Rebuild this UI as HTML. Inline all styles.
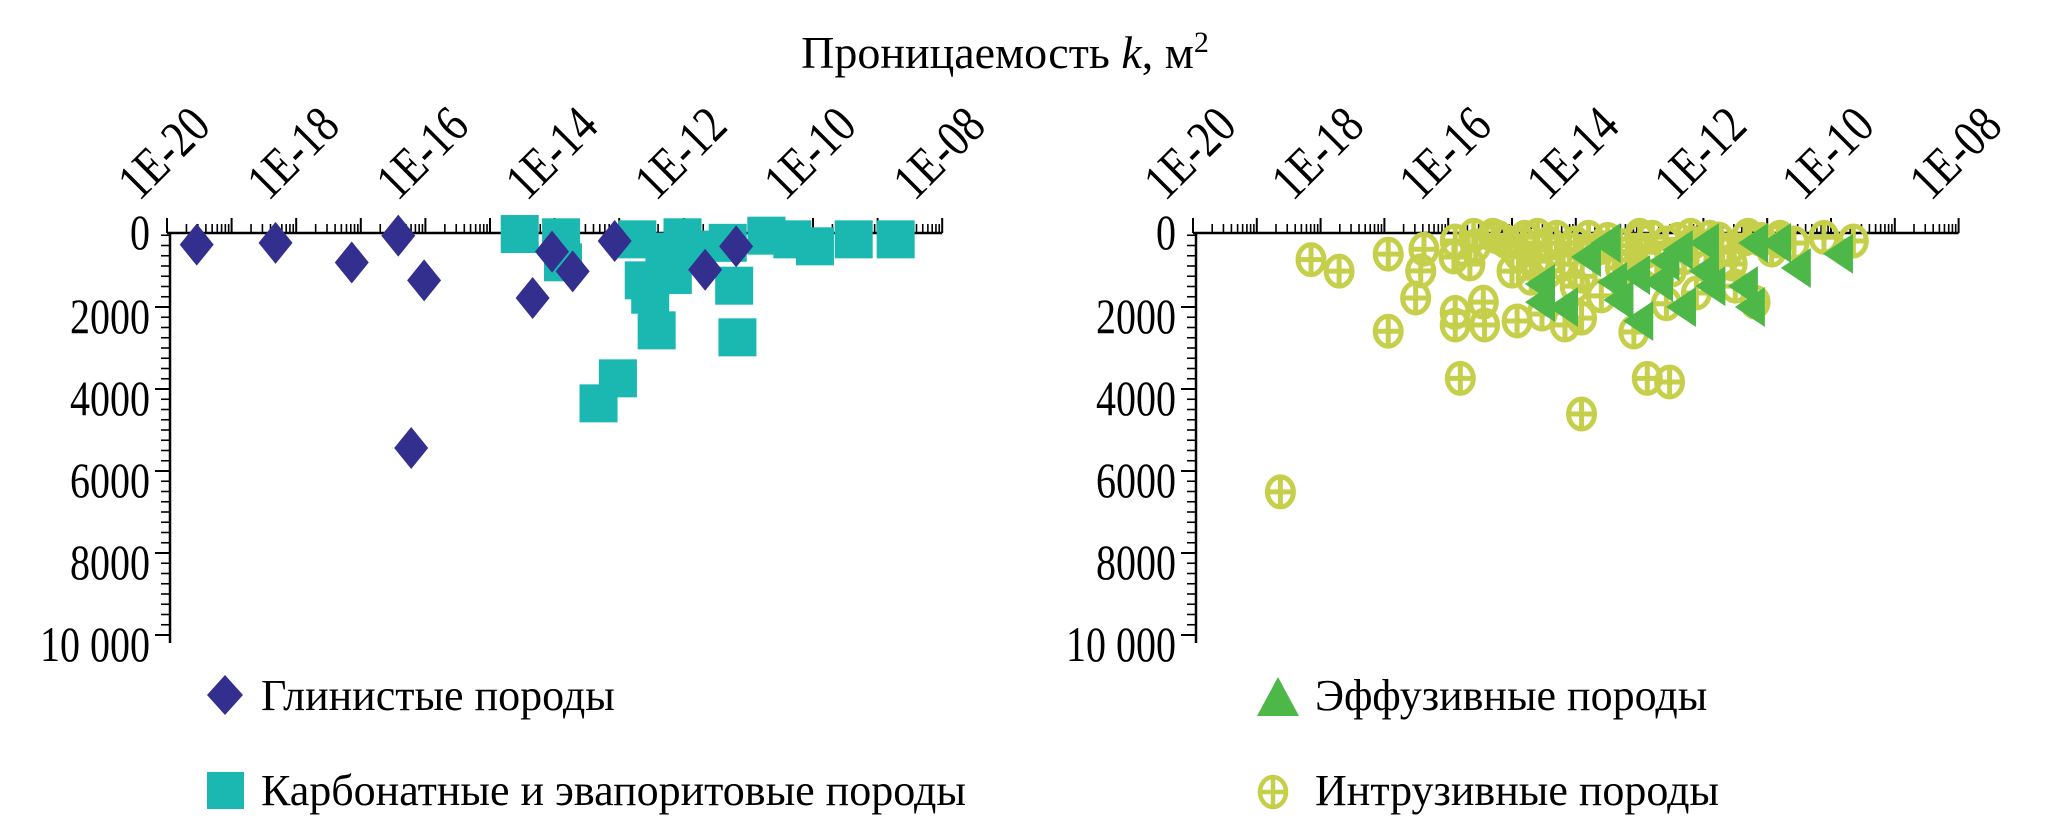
<!DOCTYPE html>
<html><head><meta charset="utf-8"><style>
html,body{margin:0;padding:0;background:#fff;}
svg{display:block;font-family:"Liberation Serif",serif;}
</style></head><body>
<svg id="chart" width="2067" height="827" viewBox="0 0 2067 827" xmlns="http://www.w3.org/2000/svg">
<text x="1005" y="68" font-size="46" text-anchor="middle">Проницаемость <tspan font-style="italic">k</tspan>, м<tspan font-size="30" dy="-16">2</tspan></text>
<g id="left"></g>
<g id="right"></g>
<g>
<polygon points="225,675 243,695 225,715 207,695" fill="#332f8f"/>
<text x="261" y="710" font-size="44">Глинистые породы</text>
<rect x="207" y="772" width="37" height="37" fill="#1ab8b0"/>
<text x="261" y="805" font-size="44">Карбонатные и эвапоритовые породы</text>
</g>
<g>
<polygon points="1278,677 1299,716 1257,716" fill="#4db848"/>
<text x="1315" y="710" font-size="44">Эффузивные породы</text>
<g stroke="#c5cf4a" fill="none" stroke-width="4.5"><ellipse cx="1273" cy="792" rx="13" ry="15"/><line x1="1260" y1="792" x2="1286" y2="792"/><line x1="1273" y1="777" x2="1273" y2="807"/></g>
<text x="1315" y="805" font-size="44">Интрузивные породы</text>
</g>
</svg>
<script>
const tickLabels = ["1E-20","1E-18","1E-16","1E-14","1E-12","1E-10","1E-08"];
const depthTicks = [0,2000,4000,6000,8000,10000];
const depthTickLabels = ["0","2000","4000","6000","8000","10 000"];
const clayLogK = [-19.54,-18.32,-17.14,-16.42,-16.02,-16.22,-14.34,-14.04,-13.72,-13.07,-11.67,-11.19];
const clayDepth = [480,435,915,260,1350,5440,1780,650,1130,390,1090,520];
const carbLogK = [-14.54,-13.87,-12.72,-12.62,-12.52,-12.42,-12.17,-12.02,-11.22,-11.17,-11.32,-13.02,-13.32,-10.72,-10.32,-9.97,-9.37,-8.72,-12.3,-11.8,-13.9];
const carbDepth = [220,910,350,1350,1700,2570,1220,300,1480,2740,435,3740,4350,260,350,520,350,350,650,600,300];
const intrLogK = [-18.15,-17.71,-16.94,-16.38,-16.43,-16.51,-16.94,-15.89,-15.91,-15.57,-15.66,-15.89,-15.89,-15.45,-15.43,-14.92,-15.81,-15.22,-15.0,-14.84,-14.63,-14.42,-14.53,-14.17,-13.91,-14.01,-14.42,-14.01,-13.71,-13.6,-13.19,-13.09,-12.88,-12.53,-13.91,-18.63,-12.99,-12.58,-12.17,-11.76,-12.11,-12.58,-11.55,-11.5,-11.19,-11.35,-10.93,-10.58,-10.11,-9.65,-10.83,-11.96,-12.73,-13.3,
 -15.6,-15.3,-15.1,-14.8,-14.6,-14.3,-14.1,-13.8,-13.5,-13.3,-13.0,-12.8,-12.4,-12.2,-11.9,-11.6,-11.3,-11.1,-10.8,-14.9,-14.4,-13.6,-12.9,-12.3,-11.7,-14.2,-13.2,-12.5,-14.7,-13.9];
const intrDepth = [845,1125,710,590,1120,1780,2590,390,780,510,950,2130,2440,1880,2440,2340,3740,300,1125,440,880,1120,2170,2440,2270,1490,440,440,610,1730,700,2610,3740,3830,4610,6510,340,440,440,340,1660,1920,950,1490,1880,340,610,440,300,390,390,700,880,1050,
 250,250,400,300,250,300,600,300,350,500,250,300,350,250,300,600,250,350,300,700,800,550,650,800,900,950,1000,1100,1300,1250];
const effLogK = [-14.53,-14.53,-14.17,-13.5,-13.4,-13.3,-13.04,-12.99,-12.68,-12.58,-12.32,-11.96,-11.96,-11.86,-11.35,-11.19,-11.24,-10.83,-10.52,-9.86,-13.81,-12.37];
const effDepth = [1440,1880,2000,440,1390,1830,1220,2340,1390,880,2000,440,1125,1490,1490,440,2000,440,1050,700,780,610];

const NS="http://www.w3.org/2000/svg";
function mk(tag,attrs,parent){const e=document.createElementNS(NS,tag);for(const k in attrs)e.setAttribute(k,attrs[k]);parent.appendChild(e);return e;}
const Y0=225, YS=0.041, AXY=233;
function yScale(d){return Y0+d*YS;}
function makePanel(g,x0,yAxisX,dec){
  const xScale=lk=>x0+(lk+20)*dec;
  mk('line',{x1:x0,y1:AXY,x2:x0+12*dec,y2:AXY,stroke:'#000','stroke-width':2.5},g);
  mk('line',{x1:yAxisX,y1:AXY,x2:yAxisX,y2:yScale(10000)+8,stroke:'#000','stroke-width':2.5},g);
  for(let d=0;d<=12;d++){
    const x=x0+d*dec;
    const t=mk('line',{x1:x,y1:AXY,x2:x,y2:AXY-15,stroke:'#000','stroke-width':2},g);
    
    
    if(d<12)for(let m=2;m<=9;m++){
      const xm=x+Math.log10(m)*dec;
      const mt=mk('line',{x1:xm,y1:AXY,x2:xm,y2:AXY-9,stroke:'#000','stroke-width':1.6},g);
      
      
    }
  }
  tickLabels.forEach((lab,i)=>{
    const x=xScale(-20+i*2)-28, y=202;
    const t=mk('text',{x:0,y:0,'font-size':52,transform:`translate(${x} ${y}) rotate(-45) scale(0.82 1)`},g);
    t.textContent=lab;
    
    
  });
  for(let d=250;d<=10000;d+=250){
    const y=yScale(d), major=d%2000===0;
    const t=mk('line',{x1:yAxisX,y1:y,x2:yAxisX-(major?15:9),y2:y,stroke:'#000','stroke-width':major?2:1.6},g);
    
    
  }
  depthTicks.forEach((d,i)=>{
    const xx=yAxisX-20, yy=yScale(d)+(d===0?24:26);
    const t=mk('text',{x:0,y:0,'font-size':50,'text-anchor':'end',transform:`translate(${xx} ${yy}) scale(0.8 1)`},g);
    t.textContent=depthTickLabels[i];
    
    
  });
  return xScale;
}
const gl=document.getElementById('left'), gr=document.getElementById('right');
const xl=makePanel(gl,167,170,64.6);
const xr=makePanel(gr,1193,1196,63.8);
carbLogK.forEach((k,i)=>{
  const x=xl(k),y=yScale(carbDepth[i]);
  const r=mk('rect',{x:x-19,y:y-19,width:38,height:38,fill:'#1ab8b0'},gl);
  
  
});
clayLogK.forEach((k,i)=>{
  const x=xl(k),y=yScale(clayDepth[i]);
  const p=mk('polygon',{points:`${x},${y-21} ${x+17},${y} ${x},${y+21} ${x-17},${y}`,fill:'#332f8f'},gl);
  
  
});
intrLogK.forEach((k,i)=>{
  const x=xr(k),y=yScale(intrDepth[i]);
  const g=mk('g',{stroke:'#c5cf4a',fill:'none','stroke-width':5},gr);
  
  
  mk('ellipse',{cx:x,cy:y,rx:13,ry:15},g);
  mk('line',{x1:x-13,y1:y,x2:x+13,y2:y},g);
  mk('line',{x1:x,y1:y-15,x2:x,y2:y+15},g);
});
effLogK.forEach((k,i)=>{
  const x=xr(k),y=yScale(effDepth[i]);
  const p=mk('polygon',{points:`${x+13},${y-20} ${x+13},${y+20} ${x-17},${y}`,fill:'#4db848'},gr);
  
  
});
</script>
</body></html>
